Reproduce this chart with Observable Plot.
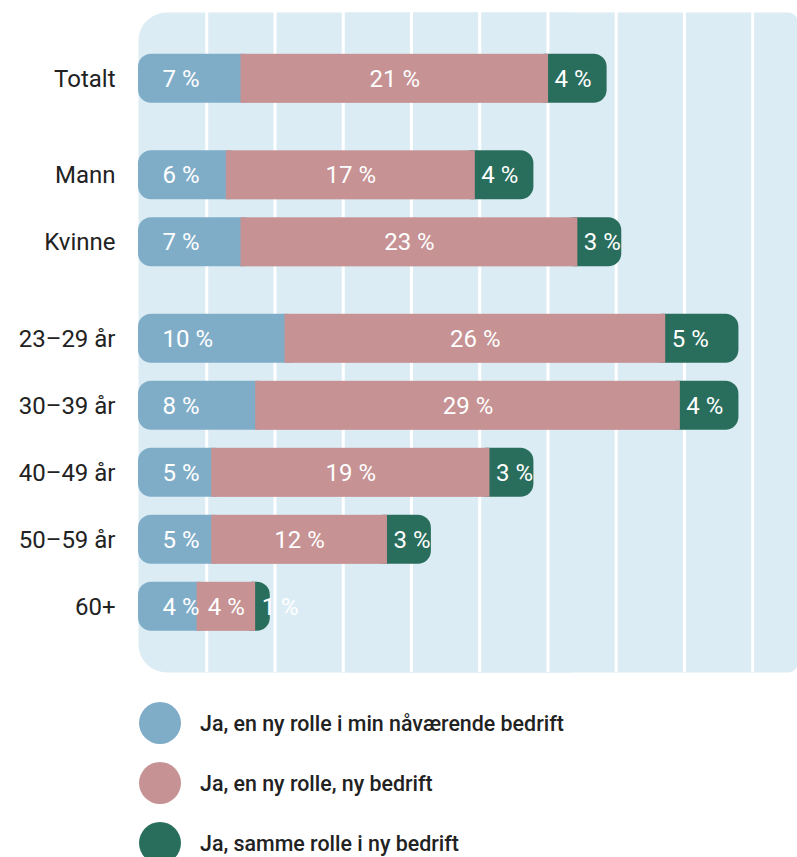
<!DOCTYPE html>
<html>
<head>
<meta charset="utf-8">
<script src="https://cdn.jsdelivr.net/npm/d3@7"></script>
<script src="https://cdn.jsdelivr.net/npm/@observablehq/plot@0.6"></script>
<style>
  html, body { margin: 0; padding: 0; background: #fff; }
  body { width: 797px; font-family: Roboto, "Noto Sans", sans-serif; }
  #legend { margin-top: 3px; }
  .item { display: flex; align-items: center; height: 60px; }
  .dot { width: 42px; height: 42px; border-radius: 50%; margin-left: 139px; margin-right: 19px; flex: none; }
  .lab { font-size: 21.4px; font-weight: 500; color: #222; }
</style>
</head>
<body>
<div id="chart"></div>
<div id="legend"></div>
<script>
// ---- data ----
const categories = ["Totalt", "Mann", "Kvinne", "23–29 år", "30–39 år", "40–49 år", "50–59 år", "60+"];
const groups = [["Totalt"], ["Mann", "Kvinne"], ["23–29 år", "30–39 år", "40–49 år", "50–59 år", "60+"]];
const sameCompanyNewRole = [7, 6, 7, 10, 8, 5, 5, 4];   // Ja, en ny rolle i min nåværende bedrift
const newCompanyNewRole  = [21, 17, 23, 26, 29, 19, 12, 4]; // Ja, en ny rolle, ny bedrift
const newCompanySameRole = [4, 4, 3, 5, 4, 3, 3, 1];     // Ja, samme rolle i ny bedrift
const seriesNames = ["Ja, en ny rolle i min nåværende bedrift", "Ja, en ny rolle, ny bedrift", "Ja, samme rolle i ny bedrift"];
const gridTicks = [4.66, 9.32, 13.98, 18.64, 23.3, 27.96, 32.62, 37.28, 41.94];

// ---- styles ----
const colors = ["#7fadc8", "#c69294", "#296e5c"];
const panelFill = "#dcecf4";
const groupGap = 0.44;
const half = 0.366;

// rows built from data
const rows = categories.map((c, i) => {
  const g = groups.findIndex(gr => gr.includes(c));
  const b = sameCompanyNewRole[i], p = newCompanyNewRole[i], s = newCompanySameRole[i];
  return {cat: c, pos: i + g * groupGap, b, p, s};
});

const fmt = v => `${v} %`;

const chart = Plot.plot({
  width: 797,
  height: 690,
  marginLeft: 138,
  marginRight: 0,
  marginTop: 12,
  marginBottom: 18,
  x: {domain: [0, 45], axis: null},
  y: {domain: [8.86, -0.99], axis: null},
  style: {fontFamily: "Roboto, sans-serif", background: "transparent"},
  marks: [
    Plot.frame({fill: panelFill, stroke: null, rx: 28, insetRight: 200}),
    Plot.frame({fill: panelFill, stroke: null, rx: 9, insetLeft: 200}),
    Plot.ruleX(gridTicks, {stroke: "#ffffff", strokeWidth: 3, strokeOpacity: 1}),
    // blue (rounded left, extended under pink)
    Plot.rect(rows, {x1: 0, x2: d => d.b, y1: d => d.pos - half, y2: d => d.pos + half, fill: colors[0], rx: 13, insetRight: -16}),
    // green (rounded right, extended under pink)
    Plot.rect(rows, {x1: d => d.b + d.p, x2: d => d.b + d.p + d.s, y1: d => d.pos - half, y2: d => d.pos + half, fill: colors[2], rx: 13, insetLeft: -16}),
    // pink (square)
    Plot.rect(rows, {x1: d => d.b, x2: d => d.b + d.p, y1: d => d.pos - half, y2: d => d.pos + half, fill: colors[1]}),
    // labels
    Plot.text(rows, {x: 0, y: "pos", text: d => fmt(d.b), dx: 24, textAnchor: "start", fill: "white", fontSize: 24}),
    Plot.text(rows, {x: d => d.b + d.p / 2, y: "pos", text: d => fmt(d.p), fill: "white", fontSize: 24}),
    Plot.text(rows, {x: d => d.b + d.p, y: "pos", text: d => fmt(d.s), dx: 6, textAnchor: "start", fill: "white", fontSize: 24}),
    Plot.text(rows, {x: 0, y: "pos", text: "cat", dx: -23, textAnchor: "end", fill: "#222", fontSize: 24})
  ]
});
document.getElementById("chart").append(chart);

const legend = document.getElementById("legend");
seriesNames.forEach((name, i) => {
  const item = document.createElement("div");
  item.className = "item";
  const dot = document.createElement("div");
  dot.className = "dot";
  dot.style.background = colors[i];
  const lab = document.createElement("span");
  lab.className = "lab";
  lab.textContent = name;
  item.append(dot, lab);
  legend.append(item);
});
</script>
</body>
</html>
